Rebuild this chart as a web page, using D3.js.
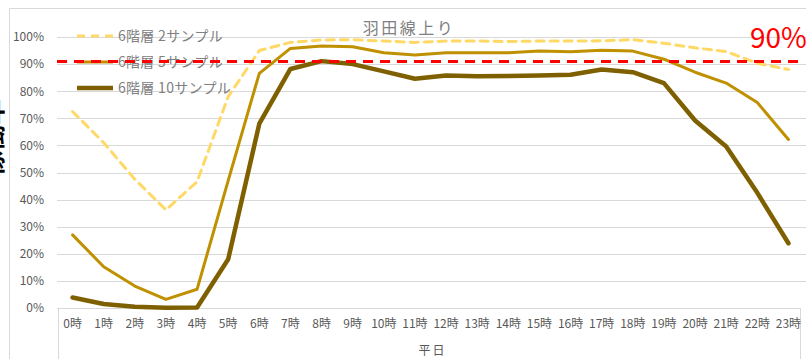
<!DOCTYPE html>
<html>
<head>
<meta charset="utf-8">
<script src="https://cdn.jsdelivr.net/npm/d3@7/dist/d3.min.js"></script>
<style>
  html, body { margin: 0; padding: 0; background: #fff; }
  svg { display: block; font-family: "Noto Sans CJK JP", "Noto Sans", sans-serif; }
</style>
</head>
<body>
<div id="chart"></div>
<script>
const hours = ["0時","1時","2時","3時","4時","5時","6時","7時","8時","9時","10時","11時","12時","13時","14時","15時","16時","17時","18時","19時","20時","21時","22時","23時"];
const seriesNames = ["6階層 2サンプル", "6階層 5サンプル", "6階層 10サンプル"];
const s2  = [72.5, 61, 47.5, 36.2, 46.6, 78, 95, 98, 98.9, 99, 98.5, 98, 98.5, 98.5, 98.3, 98.5, 98.5, 98.6, 99, 97.7, 96, 94.6, 90.3, 88];
const s5  = [27, 15.2, 8.1, 3.2, 6.9, 47, 86.6, 95.8, 96.7, 96.4, 94.2, 93.4, 94.2, 94.2, 94.2, 94.8, 94.6, 95.1, 94.8, 91.8, 87, 83, 75.8, 62.2];
const s10 = [3.9, 1.5, 0.5, 0.1, 0.2, 18, 68, 88.2, 91.1, 90, 87.3, 84.6, 85.8, 85.5, 85.6, 85.8, 86.1, 88, 87, 83, 69.2, 59.6, 42.5, 23.9];
const threshold = 91;
const yTicks = [0, 10, 20, 30, 40, 50, 60, 70, 80, 90, 100];
const title = "羽田線上り";
const groupLabel = "平日";
const thresholdLabel = "90%";
const sideLabel = "稼働率";

const W = 806, H = 359;
const pLeft = 57, pRight = 804, pTop = 37, pBottom = 308;

const svg = d3.select("#chart").append("svg").attr("width", W).attr("height", H);

const x = d3.scaleBand().domain(hours).range([pLeft, pRight]).padding(0);
const xc = d => x(d) + x.bandwidth() / 2;
const y = d3.scaleLinear().domain([0, 100]).range([pBottom, pTop]);

// chart border
svg.append("path").attr("d", `M9.5,${H} V8.5 H${W}`).attr("fill", "none").attr("stroke", "#d9d9d9").attr("stroke-width", 1);

// clipped side text (mostly outside the left edge, as in the reference)
svg.append("text").attr("transform", "translate(2,138) rotate(-90)")
  .attr("text-anchor", "middle").attr("font-size", 26).attr("font-weight", "bold").attr("fill", "#000").text(sideLabel);

// gridlines
svg.append("g").selectAll("line").data(yTicks.filter(d => d > 0)).join("line")
  .attr("x1", pLeft).attr("x2", W).attr("y1", d => Math.round(y(d)) + 0.5).attr("y2", d => Math.round(y(d)) + 0.5)
  .attr("stroke", "#d9d9d9").attr("stroke-width", 1);

// y axis labels
const yAxis = svg.append("g").attr("transform", `translate(${pLeft},0)`)
  .call(d3.axisLeft(y).tickValues(yTicks).tickFormat(d => d + "%").tickSize(0).tickPadding(13));
yAxis.select(".domain").remove();
yAxis.selectAll("text").attr("font-size", 12).attr("fill", "#595959").attr("font-family", "'Noto Sans CJK JP', sans-serif");

// category axis box
svg.append("line").attr("x1", pLeft).attr("x2", 800).attr("y1", pBottom + 0.5).attr("y2", pBottom + 0.5).attr("stroke", "#d9d9d9");
svg.append("line").attr("x1", pLeft + 1.5).attr("x2", pLeft + 1.5).attr("y1", pBottom).attr("y2", H).attr("stroke", "#d9d9d9");
svg.append("line").attr("x1", 800.5).attr("x2", 800.5).attr("y1", pBottom).attr("y2", H).attr("stroke", "#d9d9d9");

const xAxis = svg.append("g").attr("transform", `translate(0,${pBottom})`)
  .call(d3.axisBottom(x).tickSize(0).tickPadding(11));
xAxis.select(".domain").remove();
xAxis.selectAll("text").attr("font-size", 12).attr("fill", "#595959").attr("font-family", "'Noto Sans CJK JP', sans-serif");

svg.append("text").attr("x", (pLeft + pRight) / 2 + 2).attr("y", 355).attr("text-anchor", "middle")
  .attr("font-size", 12).attr("fill", "#595959").attr("letter-spacing", 2).text(groupLabel);

// title
svg.append("text").attr("x", 409).attr("y", 34).attr("text-anchor", "middle")
  .attr("font-size", 16).attr("letter-spacing", 2.5).attr("fill", "#808080").text(title);

// legend
const styles = [
  { color: "#FFD966", width: 3, dash: "8,6" },
  { color: "#BF9000", width: 3, dash: null },
  { color: "#7F6000", width: 4.5, dash: null }
];
const legendY = [36, 62, 88];
const lg = svg.append("g");
seriesNames.forEach((n, i) => {
  lg.append("line").attr("x1", 77).attr("x2", 113).attr("y1", legendY[i]).attr("y2", legendY[i])
    .attr("stroke", styles[i].color).attr("stroke-width", styles[i].width)
    .attr("stroke-dasharray", styles[i].dash);
  lg.append("text").attr("x", 118).attr("y", legendY[i]).attr("dy", "0.35em")
    .attr("font-size", 14).attr("letter-spacing", 0.3).attr("fill", "#808080").text(n);
});

// series
const line = d3.line().x((d, i) => xc(hours[i])).y(d => y(d));
[s2, s5, s10].forEach((s, i) => {
  svg.append("path").datum(s).attr("d", line).attr("fill", "none")
    .attr("stroke", styles[i].color).attr("stroke-width", styles[i].width)
    .attr("stroke-dasharray", styles[i].dash).attr("stroke-linejoin", "round").attr("stroke-linecap", "round");
});

// threshold line
svg.append("line").attr("x1", pLeft).attr("x2", 798).attr("y1", y(threshold)).attr("y2", y(threshold))
  .attr("stroke", "#FF0000").attr("stroke-width", 3).attr("stroke-dasharray", "10,7");
svg.append("text").attr("x", 750).attr("y", 48).attr("font-size", 28).attr("fill", "#FF0000").text(thresholdLabel);
</script>
</body>
</html>
